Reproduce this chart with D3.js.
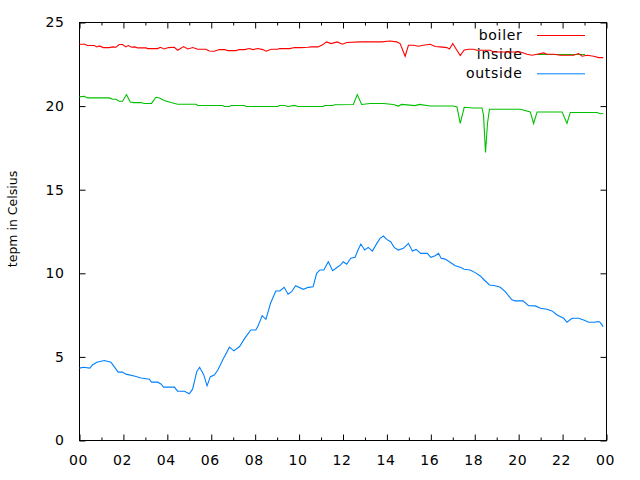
<!DOCTYPE html>
<html><head><meta charset="utf-8">
<script src="https://cdn.jsdelivr.net/npm/d3@7"></script>
<style>body{margin:0;background:#fff}</style>
</head><body><svg id="c" width="640" height="480"></svg>
<script>
const hourTicks = [0,2,4,6,8,10,12,14,16,18,20,22,24];
const minorHourTicks = [1,3,5,7,9,11,13,15,17,19,21,23];
const hourTickLabels = ["00","02","04","06","08","10","12","14","16","18","20","22","00"];
const tempTicks = [0,5,10,15,20,25];
const seriesNames = ["boiler","inside","outside"];
const seriesColors = ["#ff0000","#00c000","#0080ff"];
const yAxisTitle = "tepm in Celsius";

const boilerHours = [0.00,0.24,0.36,0.67,0.79,0.90,1.09,1.35,1.51,1.66,1.81,1.96,2.11,2.22,2.37,2.52,2.65,3.03,3.10,3.56,3.68,3.86,4.05,4.32,4.47,4.74,4.93,5.16,5.38,5.76,5.91,6.14,6.37,6.60,6.75,7.13,7.28,7.51,7.74,7.89,8.12,8.35,8.50,8.73,9.03,9.11,9.57,9.79,10.10,10.40,10.55,10.86,11.09,11.24,11.46,11.74,11.97,12.17,12.77,13.38,13.76,14.14,14.45,14.60,14.83,14.98,15.21,15.43,15.66,15.97,16.20,16.42,16.73,16.85,17.00,17.15,17.34,17.52,17.72,17.94,18.10,18.70,18.86,20.07,20.22,20.38,20.61,20.84,21.14,21.29,21.59,21.90,22.50,22.73,22.89,23.12,23.42,23.65,23.85];
const boilerTemps = [23.70,23.70,23.62,23.62,23.54,23.60,23.50,23.50,23.54,23.52,23.68,23.68,23.54,23.62,23.52,23.54,23.48,23.48,23.44,23.44,23.52,23.42,23.50,23.52,23.34,23.56,23.42,23.50,23.40,23.40,23.30,23.28,23.38,23.38,23.32,23.32,23.38,23.38,23.44,23.38,23.44,23.38,23.28,23.40,23.40,23.44,23.44,23.50,23.50,23.52,23.54,23.54,23.68,23.84,23.74,23.84,23.70,23.80,23.84,23.84,23.84,23.89,23.84,23.74,22.98,23.64,23.64,23.58,23.64,23.70,23.56,23.54,23.50,23.42,23.74,23.42,23.02,23.36,23.40,23.40,23.34,23.34,23.24,23.24,23.18,23.10,23.04,23.10,23.18,23.10,23.10,23.04,23.04,23.14,22.98,23.04,22.98,22.90,22.90];

const insideHours = [0.00,0.22,0.36,1.35,1.51,1.66,1.81,1.96,2.14,2.31,2.49,2.80,2.95,3.28,3.48,3.64,3.86,4.17,4.47,5.31,5.38,6.52,6.60,6.83,6.90,7.51,7.59,9.03,9.11,9.34,9.49,9.79,9.95,11.09,11.17,11.54,11.62,12.47,12.65,12.85,13.23,13.84,14.29,14.52,14.67,15.28,15.48,15.97,17.03,17.19,17.34,17.52,17.94,18.33,18.40,18.49,18.58,18.67,20.07,20.53,20.68,20.84,21.98,22.20,22.35,23.57,23.72,23.85];
const insideTemps = [20.55,20.59,20.49,20.49,20.41,20.41,20.29,20.29,20.69,20.25,20.21,20.21,20.16,20.16,20.53,20.49,20.33,20.21,20.11,20.11,20.04,20.04,19.98,19.98,20.04,20.04,19.98,19.98,20.04,20.04,19.98,20.04,19.98,19.98,20.04,20.04,20.08,20.10,20.69,20.10,20.16,20.16,20.10,20.00,20.10,20.03,20.10,20.01,20.01,19.95,18.96,19.93,19.89,19.89,19.46,17.23,18.96,19.81,19.81,19.65,18.96,19.65,19.65,18.96,19.62,19.62,19.54,19.56];

const outsideHours = [0.00,0.18,0.47,0.59,0.79,1.13,1.43,1.58,1.76,1.96,2.11,2.49,2.80,3.18,3.28,3.56,3.71,3.83,4.32,4.47,4.78,5.00,5.15,5.34,5.47,5.66,5.81,5.96,6.14,6.30,6.52,6.83,7.03,7.29,7.53,7.80,8.03,8.13,8.32,8.49,8.70,8.94,9.12,9.32,9.50,9.66,9.84,10.19,10.42,10.64,10.80,10.95,11.13,11.33,11.53,11.74,11.89,12.01,12.17,12.35,12.55,12.65,12.81,12.99,13.15,13.34,13.54,13.69,13.84,13.99,14.17,14.33,14.52,14.75,14.98,15.16,15.33,15.54,15.84,16.00,16.20,16.35,16.47,16.65,16.88,17.11,17.34,17.52,17.79,18.02,18.25,18.43,18.67,18.93,19.16,19.39,19.69,19.84,20.20,20.45,20.76,20.99,21.29,21.52,21.75,22.05,22.20,22.43,22.73,22.96,23.19,23.42,23.65,23.72,23.85];
const outsideTemps = [4.33,4.38,4.33,4.52,4.68,4.78,4.68,4.42,4.09,4.09,3.97,3.86,3.74,3.67,3.49,3.49,3.38,3.19,3.19,2.95,2.95,2.79,3.07,4.12,4.38,3.92,3.27,3.82,3.92,4.22,4.82,5.58,5.36,5.62,6.12,6.61,6.61,6.85,7.47,7.25,8.21,8.94,8.94,9.16,8.75,8.90,9.26,9.04,9.16,9.20,10.00,10.20,10.20,10.69,10.16,10.36,10.50,10.69,10.54,10.90,10.96,11.29,11.75,11.39,11.55,11.33,11.79,12.09,12.23,12.03,11.89,11.55,11.39,11.49,11.79,11.33,11.43,11.19,11.19,10.96,11.05,11.19,10.90,10.85,10.66,10.45,10.36,10.24,10.20,10.04,9.84,9.60,9.30,9.26,9.16,8.90,8.41,8.35,8.36,8.06,8.05,7.91,7.85,7.75,7.51,7.31,7.07,7.31,7.31,7.21,7.07,7.07,7.11,7.05,6.81];

const seriesData = [
  boilerHours.map((h,i)=>[h, boilerTemps[i]]),
  insideHours.map((h,i)=>[h, insideTemps[i]]),
  outsideHours.map((h,i)=>[h, outsideTemps[i]])
];

const svg = d3.select("#c");
const L = 79.5, R = 606.5, T = 22.5, B = 440.5;
const x = d3.scaleLinear().domain([0,24]).range([L,R]);
const y = d3.scaleLinear().domain([0,25]).range([B,T]);
const FONT = "'DejaVu Sans', sans-serif";

function styleAxis(g){
  g.select(".domain").remove();
  g.selectAll("line").attr("stroke","#000");
  g.selectAll("text").attr("font-family",FONT).attr("font-size",14).attr("fill","#000").style("letter-spacing","0.6px");
}

// bottom axis
svg.append("g").attr("transform",`translate(0,${B})`)
  .call(d3.axisBottom(x).tickValues(hourTicks).tickSize(-6).tickPadding(14.5).tickFormat((d,i)=>hourTickLabels[i]))
  .call(styleAxis).call(g=>g.selectAll("text").attr("dx",-1.5));
svg.append("g").attr("transform",`translate(0,${B})`)
  .call(d3.axisBottom(x).tickValues(minorHourTicks).tickSize(-3).tickFormat(""))
  .call(styleAxis);
// top mirror
svg.append("g").attr("transform",`translate(0,${T})`)
  .call(d3.axisTop(x).tickValues(hourTicks).tickSize(-6).tickFormat(""))
  .call(styleAxis);
svg.append("g").attr("transform",`translate(0,${T})`)
  .call(d3.axisTop(x).tickValues(minorHourTicks).tickSize(-3).tickFormat(""))
  .call(styleAxis);
// left axis
svg.append("g").attr("transform",`translate(${L},0)`)
  .call(d3.axisLeft(y).tickValues(tempTicks).tickSize(-6).tickPadding(15).tickFormat(d3.format("d")))
  .call(styleAxis);
// right mirror
svg.append("g").attr("transform",`translate(${R},0)`)
  .call(d3.axisRight(y).tickValues(tempTicks).tickSize(-6).tickFormat(""))
  .call(styleAxis);

// border
svg.append("rect").attr("x",L).attr("y",T).attr("width",R-L).attr("height",B-T)
  .attr("fill","none").attr("stroke","#000").attr("stroke-width",1);

// y title
svg.append("text").attr("transform","translate(13,219) rotate(-90)")
  .attr("text-anchor","middle").attr("dy","0.35em")
  .attr("font-family",FONT).attr("font-size",12.5).attr("fill","#000")
  .text(yAxisTitle);

// legend
const legendRows = [35,54,73.3];
seriesNames.forEach((name,i)=>{
  svg.append("text").attr("x",522.5).attr("y",legendRows[i]).attr("dy","0.35em")
    .attr("text-anchor","end").attr("font-family",FONT).attr("font-size",14)
    .style("letter-spacing","0.7px").attr("fill","#000").text(name);
  svg.append("line").attr("x1",537).attr("x2",585).attr("y1",legendRows[i]+0.5).attr("y2",legendRows[i]+0.5)
    .attr("stroke",seriesColors[i]).attr("stroke-width",1);
});

// lines
const line = d3.line().x(d=>x(d[0])).y(d=>y(d[1]));
seriesData.forEach((data,i)=>{
  svg.append("path").datum(data).attr("d",line)
    .attr("fill","none").attr("stroke",seriesColors[i]).attr("stroke-width",1.1);
});
</script>
</body></html>
